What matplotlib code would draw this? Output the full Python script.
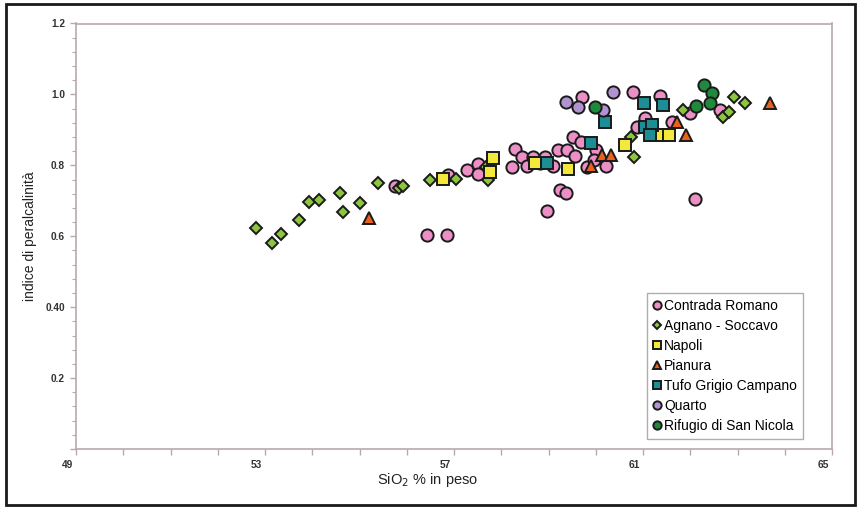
import matplotlib
matplotlib.use("Agg")
import matplotlib.pyplot as plt
import matplotlib.transforms as mtransforms
from matplotlib.ticker import MultipleLocator, FixedLocator, FixedFormatter
from matplotlib.patches import Rectangle

plt.rcParams['font.family'] = ['Liberation Sans', 'DejaVu Sans']

# SiO2 (% wt) and peralkalinity index per locality
contrada_x = [55.75, 56.42, 56.86, 56.87, 57.27, 57.51, 57.51, 58.22, 58.29, 58.43,
              58.54, 58.67, 58.93, 59.10, 59.21, 59.39, 59.56, 59.52, 59.68, 59.24,
              59.37, 58.96, 60.22, 59.81, 59.70, 60.79, 61.37, 61.04, 60.87, 61.61,
              61.99, 62.64, 62.10, 58.82, 60.01, 59.96]
contrada_y = [0.742, 0.603, 0.603, 0.773, 0.787, 0.804, 0.776, 0.796, 0.845, 0.824,
              0.798, 0.824, 0.824, 0.798, 0.843, 0.843, 0.826, 0.881, 0.867, 0.730,
              0.723, 0.672, 0.798, 0.796, 0.994, 1.008, 0.995, 0.933, 0.909, 0.923,
              0.947, 0.956, 0.704, 0.807, 0.843, 0.815]

agnano_x = [52.82, 53.14, 53.33, 53.71, 53.94, 54.15, 54.59, 54.66, 55.00, 55.40,
            55.84, 55.93, 56.49, 57.04, 57.68, 57.73, 60.74, 60.80, 61.84, 62.69,
            62.83, 62.93, 63.16]
agnano_y = [0.622, 0.580, 0.606, 0.646, 0.697, 0.702, 0.721, 0.669, 0.695, 0.751,
            0.735, 0.742, 0.759, 0.761, 0.796, 0.759, 0.881, 0.824, 0.956, 0.937,
            0.951, 0.994, 0.977]

napoli_x = [56.77, 57.76, 57.83, 58.71, 59.42, 60.62, 61.35, 61.54]
napoli_y = [0.761, 0.782, 0.820, 0.807, 0.789, 0.857, 0.885, 0.885]

pianura_x = [55.21, 60.13, 60.32, 61.71, 61.91, 63.69, 59.91]
pianura_y = [0.651, 0.829, 0.829, 0.923, 0.885, 0.977, 0.798]

tufo_x = [58.96, 59.91, 60.20, 61.02, 61.43, 61.04, 61.20, 61.15]
tufo_y = [0.807, 0.862, 0.923, 0.977, 0.970, 0.909, 0.914, 0.885]

quarto_x = [59.37, 59.63, 60.36, 60.16]
quarto_y = [0.979, 0.964, 1.008, 0.956]

rifugio_x = [59.98, 62.29, 62.45, 62.42, 62.12]
rifugio_y = [0.965, 1.027, 1.005, 0.977, 0.967]

x_ticks = [49, 53, 57, 61, 65]
y_ticks = [0.0, 0.2, 0.4, 0.6, 0.8, 1.0, 1.2]
y_tick_labels = ['', '0.2', '0.40', '0.6', '0.8', '1.0', '1.2']

series = [
    ("Contrada Romano", contrada_x, contrada_y, 'o', '#ec8fc6', 8.8),
    ("Agnano - Soccavo", agnano_x, agnano_y, 'D', '#8cc63e', 6.2),
    ("Napoli", napoli_x, napoli_y, 's', '#f4e93a', 8.4),
    ("Pianura", pianura_x, pianura_y, '^', '#e8621e', 9.0),
    ("Tufo Grigio Campano", tufo_x, tufo_y, 's', '#1d8e95', 8.4),
    ("Quarto", quarto_x, quarto_y, 'o', '#b293d2', 8.8),
    ("Rifugio di San Nicola", rifugio_x, rifugio_y, 'o', '#1f8a3c', 8.8),
]

fig = plt.figure(figsize=(8.59, 5.08), dpi=100)
ax = fig.add_axes([76 / 859, 1 - 449 / 508, 756 / 859, 425.5 / 508])

handles = []
for i, (name, xs, ys, mk, col, ms) in enumerate(series):
    h, = ax.plot(xs, ys, linestyle='none', marker=mk, markersize=ms,
                 markerfacecolor=col, markeredgecolor='#1a1a1a',
                 markeredgewidth=1.4, label=name, zorder=3 + i)
    handles.append(h)

ax.set_xlim(49, 65)
ax.set_ylim(0, 1.2)

spine_col = '#b9a9a9'
for s in ax.spines.values():
    s.set_color(spine_col)
    s.set_linewidth(1.2)

ax.set_xticks(list(range(49, 66)))
ax.set_xticklabels([str(v) if v in x_ticks else '' for v in range(49, 66)])
ax.yaxis.set_major_locator(FixedLocator(y_ticks))
ax.yaxis.set_major_formatter(FixedFormatter(y_tick_labels))
ax.yaxis.set_minor_locator(MultipleLocator(0.04))

ax.tick_params(axis='both', which='both', direction='out', color=spine_col,
               labelsize=7.3, labelcolor='#333333')
ax.tick_params(axis='both', which='major', length=4, width=1.0, pad=4)
ax.tick_params(axis='y', which='minor', length=3, width=0.8)

# x tick labels sit a little to the left of their ticks
shift = mtransforms.ScaledTranslation(-9 / 100, 0, fig.dpi_scale_trans)
for lbl in ax.get_xticklabels():
    lbl.set_transform(lbl.get_transform() + shift)
for lbl in ax.get_xticklabels() + ax.get_yticklabels():
    lbl.set_fontweight('bold')

ax.set_xlabel("SiO$_2$ % in peso", fontsize=10.5, color='#222222')
ax.xaxis.label.set_verticalalignment('top')
ax.xaxis.set_label_coords((428 - 76) / 756, -0.052)
ax.set_ylabel("indice di peralcalinità", fontsize=10, color='#222222', labelpad=6)

leg = ax.legend(handles=handles, loc='upper left',
                bbox_to_anchor=((647 - 76) / 756, (449 - 293) / 425.5),
                borderaxespad=0, fontsize=10, markerscale=0.68,
                handlelength=0.55, handletextpad=0.25, labelspacing=0.43,
                borderpad=0.42, frameon=True, fancybox=False)
leg.get_frame().set_edgecolor('#9a9a9a')
leg.get_frame().set_linewidth(1.0)

# outer frame around the whole figure
fig.patches.append(Rectangle((6 / 859, 3 / 508), 849 / 859, 501 / 508,
                             transform=fig.transFigure, fill=False,
                             edgecolor='#1a1a1a', linewidth=2.0))

fig.savefig("out.png", dpi=100)
